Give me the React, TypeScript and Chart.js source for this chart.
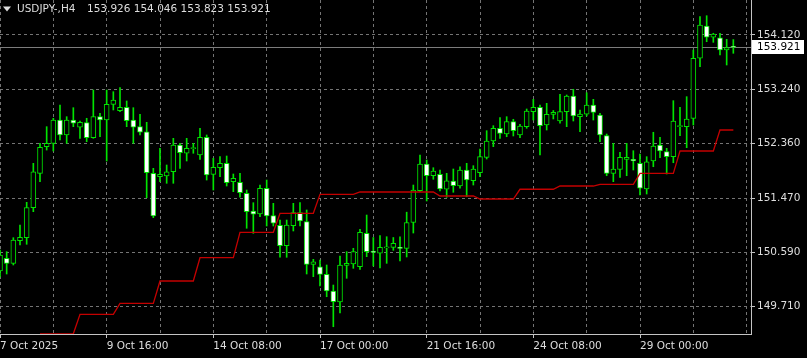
import { useEffect, useRef } from 'react';
import { Chart, registerables } from 'chart.js';

Chart.register(...registerables);

const SYMBOL = 'USDJPY-,H4';
const HEADER_OHLC = ['153.926', '154.046', '153.823', '153.921'];

const opens = [
  150.289, 150.496, 150.414, 150.781, 150.830, 151.317, 151.875, 152.307, 152.362, 152.740,
  152.497, 152.740, 152.622, 152.697, 152.453, 152.794, 152.740, 152.995, 152.891, 152.946,
  152.740, 152.632, 152.550, 151.875, 151.820, 151.831, 151.901, 152.335, 152.200, 152.276,
  152.172, 152.460, 151.859, 151.966, 152.037, 151.739, 151.729, 151.551, 151.263, 151.215,
  151.632, 151.187, 151.031, 150.700, 151.025, 151.236, 151.090, 150.398, 150.359, 150.236,
  149.965, 149.786, 150.379, 150.403, 150.359, 150.901, 150.598, 150.577, 150.666, 150.674,
  150.661, 150.658, 151.077, 151.593, 152.026, 151.836, 151.859, 151.616, 151.750, 151.669,
  151.929, 151.755, 151.885, 152.135, 152.399, 152.606, 152.513, 152.713, 152.497, 152.632,
  152.875, 152.946, 152.659, 152.830, 152.724, 152.875, 153.130, 152.794, 152.833, 152.984,
  152.821, 152.486, 151.875, 151.940, 152.102, 152.102, 152.037, 151.620, 152.075, 152.335,
  152.226, 152.145, 152.632, 152.632, 152.768, 153.742, 154.266, 154.083, 154.076, 153.876,
  153.926,
];

const highs = [
  150.630, 150.603, 150.830, 151.036, 151.404, 152.037, 152.362, 152.632, 152.768, 152.984,
  152.794, 152.940, 152.724, 152.768, 153.227, 152.849, 153.227, 153.200, 153.265, 153.049,
  152.940, 152.833, 152.703, 151.956, 152.281, 152.010, 152.443, 152.362, 152.443, 152.362,
  152.606, 152.497, 152.119, 152.145, 152.156, 151.864, 151.875, 151.604, 151.398, 151.685,
  151.766, 151.388, 151.117, 151.117, 151.388, 151.398, 151.280, 150.479, 150.468, 150.387,
  150.062, 150.533, 150.603, 150.658, 150.966, 151.198, 150.833, 150.866, 150.846, 150.833,
  150.846, 151.244, 151.685, 152.172, 152.091, 151.966, 151.929, 151.875, 151.945, 151.982,
  152.037, 151.999, 152.270, 152.567, 152.648, 152.778, 152.794, 152.752, 152.671, 152.919,
  153.076, 152.984, 153.011, 152.895, 153.157, 153.146, 153.239, 152.903, 153.183, 153.076,
  152.849, 152.513, 152.362, 152.216, 152.362, 152.242, 152.188, 152.145, 152.541, 152.460,
  152.281, 153.054, 152.946, 153.119, 153.876, 154.417, 154.433, 154.148, 154.148, 154.050,
  154.046,
];

const lows = [
  150.192, 150.241, 150.387, 150.711, 150.723, 151.252, 151.739, 152.253, 152.237, 152.416,
  152.362, 152.632, 152.443, 152.388, 152.443, 152.469, 152.075, 152.903, 152.875, 152.632,
  152.362, 152.497, 151.479, 151.155, 151.739, 151.713, 151.713, 151.956, 152.075, 152.200,
  152.102, 151.766, 151.604, 151.820, 151.669, 151.577, 151.486, 150.983, 150.901, 151.171,
  151.020, 151.020, 150.512, 150.512, 150.939, 151.020, 150.241, 150.197, 150.046, 149.872,
  149.385, 149.608, 150.171, 150.333, 150.314, 150.522, 150.371, 150.338, 150.414, 150.625,
  150.452, 150.517, 150.906, 151.577, 151.426, 151.778, 151.588, 151.486, 151.567, 151.632,
  151.495, 151.685, 151.820, 152.107, 152.307, 152.443, 152.469, 152.481, 152.453, 152.606,
  152.740, 152.172, 152.578, 152.757, 152.687, 152.632, 152.724, 152.550, 152.805, 152.740,
  152.388, 151.836, 151.739, 151.810, 151.836, 151.929, 151.523, 151.539, 151.982, 152.128,
  151.864, 152.047, 152.486, 152.291, 152.659, 153.605, 154.011, 154.001, 153.795, 153.633,
  153.823,
];

const closes = [
  150.549, 150.414, 150.793, 150.836, 151.317, 151.901, 152.297, 152.362, 152.740, 152.497,
  152.740, 152.687, 152.703, 152.453, 152.794, 152.740, 152.995, 153.065, 152.946, 152.729,
  152.622, 152.541, 151.885, 151.182, 151.859, 151.901, 152.335, 152.210, 152.281, 152.281,
  152.460, 151.848, 151.973, 152.037, 151.723, 151.794, 151.560, 151.252, 151.210, 151.632,
  151.182, 151.064, 150.700, 151.036, 151.236, 151.101, 150.398, 150.440, 150.236, 149.965,
  149.791, 150.387, 150.414, 150.603, 150.918, 150.603, 150.593, 150.674, 150.669, 150.739,
  150.658, 151.077, 151.604, 152.026, 151.836, 151.913, 151.620, 151.755, 151.674, 151.929,
  151.766, 151.945, 152.145, 152.399, 152.606, 152.524, 152.713, 152.567, 152.643, 152.886,
  152.946, 152.648, 152.833, 152.865, 152.875, 153.130, 152.805, 152.838, 152.984, 152.865,
  152.497, 151.875, 151.945, 152.135, 152.135, 152.075, 151.632, 152.063, 152.318, 152.237,
  152.145, 152.724, 152.643, 152.757, 153.742, 154.282, 154.083, 154.136, 153.876, 153.914,
  153.921,
];

const redLine = [
  null, null, null, null, null, null, 149.270, 149.270, 149.270, 149.270,
  149.270, 149.270, 149.587, 149.587, 149.587, 149.587, 149.587, 149.587, 149.765, 149.765,
  149.765, 149.765, 149.765, 149.765, 150.127, 150.127, 150.127, 150.127, 150.127, 150.127,
  150.505, 150.505, 150.505, 150.505, 150.505, 150.505, 150.918, 150.918, 150.918, 150.918,
  150.918, 150.918, 151.226, 151.226, 151.226, 151.226, 151.226, 151.226, 151.534, 151.534,
  151.534, 151.534, 151.534, 151.534, 151.572, 151.572, 151.572, 151.572, 151.572, 151.572,
  151.572, 151.572, 151.572, 151.572, 151.572, 151.572, 151.507, 151.507, 151.507, 151.507,
  151.507, 151.507, 151.458, 151.458, 151.458, 151.458, 151.458, 151.458, 151.616, 151.616,
  151.616, 151.616, 151.616, 151.616, 151.669, 151.669, 151.669, 151.669, 151.669, 151.669,
  151.697, 151.697, 151.697, 151.697, 151.697, 151.697, 151.875, 151.875, 151.875, 151.875,
  151.875, 151.875, 152.237, 152.237, 152.237, 152.237, 152.237, 152.237, 152.578, 152.578,
  152.578,
];

const xTickIndex = [0, 16, 32, 48, 64, 80, 96];
const xTickLabels = ['7 Oct 2025', '9 Oct 16:00', '14 Oct 08:00', '17 Oct 00:00', '21 Oct 16:00', '24 Oct 08:00', '29 Oct 00:00'];
const xGridIndex = [0, 8, 16, 24, 32, 40, 48, 56, 64, 72, 80, 88, 96, 104, 112];
const yTickValues = [149.71, 150.59, 151.47, 152.36, 153.24, 154.12];

const X_MIN = 0;
const X_MAX = 112.65;
const Y_MIN = 149.267;
const Y_MAX = 154.688;

const GREEN = '#00e400';
const RED = '#c40000';
const GRID = '#747474';
const AXIS = '#c4c4c4';
const TEXT = '#dedede';
const BIDLINE = '#7c7c7c';
const FONT = '"DejaVu Sans", sans-serif';

export default function App() {
  const ref = useRef<HTMLCanvasElement | null>(null);

  useEffect(() => {
    document.body.style.margin = '0';
    document.body.style.background = '#000';
    const canvas = ref.current;
    if (!canvas) return;

    const wickData = closes.map((_, i) => ({ x: i, y: [lows[i], highs[i]] }));
    const bodyData = closes.map((c, i) => ({ x: i, y: [opens[i], c] }));
    const bodyFill = closes.map((c, i) => (c < opens[i] ? '#ffffff' : '#000000'));
    const lineData = redLine.map((v, i) => ({ x: i, y: v }));

    const overlay = {
      id: 'mt4overlay',
      beforeDatasetsDraw(chart: any) {
        const { ctx, chartArea, scales } = chart;
        const y = Math.round(scales.y.getPixelForValue(closes[closes.length - 1])) + 0.5;
        ctx.save();
        ctx.strokeStyle = BIDLINE;
        ctx.lineWidth = 1;
        ctx.beginPath();
        ctx.moveTo(chartArea.left, y);
        ctx.lineTo(chartArea.right, y);
        ctx.stroke();
        ctx.restore();
      },
      afterDraw(chart: any) {
        const { ctx, chartArea, scales } = chart;
        ctx.save();
        ctx.fillStyle = TEXT;
        ctx.beginPath();
        ctx.moveTo(3, 6.5);
        ctx.lineTo(11, 6.5);
        ctx.lineTo(7, 11.5);
        ctx.closePath();
        ctx.fill();
        ctx.font = `10.5px ${FONT}`;
        ctx.textBaseline = 'middle';
        ctx.textAlign = 'left';
        ctx.fillText(SYMBOL, 17, 9);
        ctx.fillText(HEADER_OHLC.join(' '), 87, 9);
        const y = Math.round(scales.y.getPixelForValue(closes[closes.length - 1]));
        const bx = chartArea.right + 1;
        ctx.fillStyle = '#ffffff';
        ctx.fillRect(bx, y - 7, 52, 14);
        ctx.fillStyle = '#000000';
        ctx.fillText(closes[closes.length - 1].toFixed(3), bx + 5, y + 0.5);
        ctx.restore();
      },
    };

    const chart = new Chart(canvas, {
      type: 'bar',
      data: {
        datasets: [
          {
            type: 'line',
            data: lineData,
            borderColor: RED,
            borderWidth: 1.3,
            pointRadius: 0,
            tension: 0,
            spanGaps: false,
            order: 0,
          } as any,
          {
            type: 'bar',
            data: bodyData,
            backgroundColor: bodyFill,
            borderColor: GREEN,
            borderWidth: 1,
            borderSkipped: false,
            barThickness: 5,
            minBarLength: 1,
            grouped: false,
            order: 1,
          } as any,
          {
            type: 'bar',
            data: wickData,
            backgroundColor: GREEN,
            borderWidth: 0,
            barThickness: 1,
            grouped: false,
            order: 2,
          } as any,
        ],
      },
      options: {
        responsive: false,
        animation: false,
        events: [],
        layout: { padding: 0 },
        plugins: {
          legend: { display: false },
          tooltip: { enabled: false },
          title: { display: false },
        },
        scales: {
          x: {
            type: 'linear',
            min: X_MIN,
            max: X_MAX,
            offset: false,
            afterBuildTicks: (s: any) => {
              s.ticks = xGridIndex.map((v) => ({ value: v }));
            },
            afterFit: (s: any) => {
              s.height = 24;
              s.paddingLeft = 0;
              s.paddingRight = 0;
            },
            grid: {
              offset: false,
              color: GRID,
              lineWidth: 1,
              drawTicks: true,
              tickLength: 4,
              tickColor: (c: any) => (c.tick && xTickIndex.includes(c.tick.value) ? AXIS : 'rgba(0,0,0,0)'),
              tickBorderDash: [],
            },
            border: { display: true, color: AXIS, width: 1, dash: [3, 3] },
            ticks: {
              autoSkip: false,
              maxRotation: 0,
              minRotation: 0,
              align: 'start',
              padding: 2,
              color: TEXT,
              font: { family: FONT, size: 10.5 },
              callback: (v: any) => {
                const k = xTickIndex.indexOf(Number(v));
                return k >= 0 ? xTickLabels[k] : '';
              },
            },
          } as any,
          y: {
            type: 'linear',
            position: 'right',
            min: Y_MIN,
            max: Y_MAX,
            afterBuildTicks: (s: any) => {
              s.ticks = yTickValues.map((v) => ({ value: v }));
            },
            afterFit: (s: any) => {
              s.width = 56;
              s.paddingTop = 0;
              s.paddingBottom = 0;
            },
            grid: {
              color: GRID,
              lineWidth: 1,
              drawTicks: true,
              tickLength: 4,
              tickColor: AXIS,
              tickBorderDash: [],
            },
            border: { display: true, color: AXIS, width: 1, dash: [3, 3] },
            ticks: {
              padding: 2,
              color: TEXT,
              font: { family: FONT, size: 10.5 },
              callback: (v: any) => Number(v).toFixed(3),
            },
          } as any,
        },
      },
      plugins: [overlay],
    });

    return () => {
      chart.destroy();
    };
  }, []);

  return <canvas ref={ref} width={807} height={358} style={{ display: 'block', background: '#000' }} />;
}
